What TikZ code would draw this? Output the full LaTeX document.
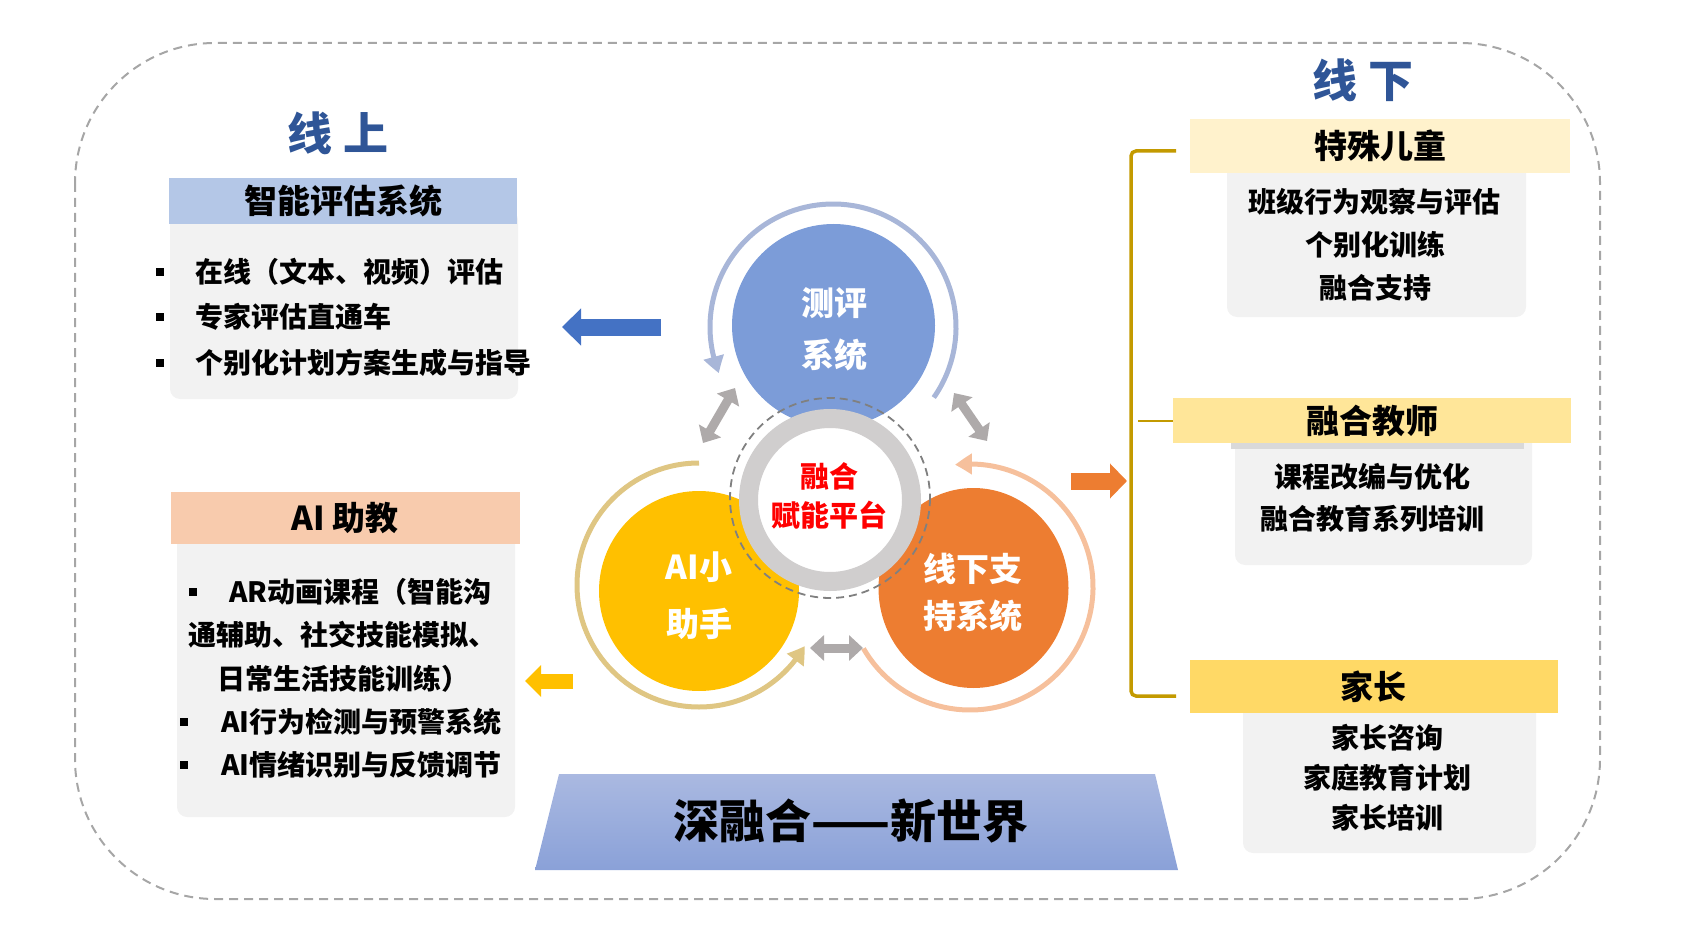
\documentclass[tikz,border=0pt]{standalone}
\usepackage{fontspec}
\setmainfont{Noto Sans CJK SC}
\usetikzlibrary{arrows.meta,bending,shapes.geometric}

\definecolor{titleblue}{HTML}{2F5597}
\definecolor{panelgray}{HTML}{F2F2F2}
\definecolor{headA}{HTML}{B4C7E7}
\definecolor{headB}{HTML}{F8CBAD}
\definecolor{headC}{HTML}{FFF2CC}
\definecolor{headD}{HTML}{FFE699}
\definecolor{headE}{HTML}{FFD966}
\definecolor{stripgray}{HTML}{D9D9D9}
\definecolor{goldline}{HTML}{C39A00}
\definecolor{outerdash}{HTML}{A6A6A6}
\definecolor{innerdash}{HTML}{808080}
\definecolor{evalblue}{HTML}{7C9CD8}
\definecolor{evalring}{HTML}{A8B6D8}
\definecolor{aiyellow}{HTML}{FFC000}
\definecolor{airing}{HTML}{DFC683}
\definecolor{offorange}{HTML}{ED7D31}
\definecolor{offring}{HTML}{F6C09C}
\definecolor{hubgray}{HTML}{D0CECE}
\definecolor{dblgray}{HTML}{AEAAAA}
\definecolor{arrowblue}{HTML}{4472C4}
\definecolor{hubred}{HTML}{FF0000}
\definecolor{trapTop}{HTML}{AAB9E1}
\definecolor{trapBot}{HTML}{8AA1D8}

\begin{document}
\begin{tikzpicture}[x=1pt,y=-1pt,
  every node/.style={inner sep=0pt, outer sep=0pt},
  titletxt/.style={text=titleblue, font=\bfseries\fontsize{45}{50}\selectfont},
  headtxt/.style={font=\bfseries\fontsize{33}{38}\selectfont},
  bodytxt/.style={font=\bfseries\fontsize{28}{32}\selectfont},
  aitxt/.style={font=\bfseries\fontsize{28}{32}\selectfont, anchor=west},
  sqbullet/.style={fill=black, minimum size=8pt},
  panel/.style={fill=panelgray, rounded corners=10pt},
  circtxt/.style={text=white, font=\bfseries\fontsize{33}{38}\selectfont},
  hubtxt/.style={text=hubred, font=\bfseries\fontsize{29}{33}\selectfont},
  ringarc/.style={line width=5pt, -{Triangle[width=20pt,length=17pt,bend]}},
  dblarrow/.style={dblgray, line width=9pt, {Triangle[width=25pt,length=14pt]}-{Triangle[width=25pt,length=14pt]}},
]
\useasboundingbox (0,0) rectangle (1689,925);

% outer dashed frame
\draw[outerdash, line width=2pt, dash pattern=on 9pt off 6pt, rounded corners=140pt] (75,43) rectangle (1600,899);

% ---------- left: online ----------
\node[titletxt] (tOn) at (338,133) {线 上};

\fill[panel] (170,210) rectangle (518,399);
\fill[headA] (169,178) rectangle (517,224);
\node[headtxt] (hEval) at (343,201) {智能评估系统};
\node[sqbullet] (bA1) at (160,272) {};
\node[bodytxt, anchor=west] (lA1) at (195,272) {在线（文本、视频）评估};
\node[sqbullet] (bA2) at (160,317) {};
\node[bodytxt, anchor=west] (lA2) at (195,317) {专家评估直通车};
\node[sqbullet] (bA3) at (160,363) {};
\node[bodytxt, anchor=west] (lA3) at (195,363) {个别化计划方案生成与指导};

\fill[panel] (177,530) rectangle (515,817);
\fill[headB] (171,492) rectangle (520,544);
\node[headtxt] (hAI) at (345,518) {AI 助教};
\node[sqbullet] (bB1) at (193,592) {};
\node[aitxt] (lB1) at (229,592) {AR动画课程（智能沟};
\node[aitxt] (lB2) at (188,635) {通辅助、社交技能模拟、};
\node[aitxt] (lB3) at (217,679) {日常生活技能训练）};
\node[sqbullet] (bB4) at (184,722) {};
\node[aitxt] (lB4) at (221,722) {AI行为检测与预警系统};
\node[sqbullet] (bB5) at (184,765) {};
\node[aitxt] (lB5) at (221,765) {AI情绪识别与反馈调节};

% ---------- centre ----------
\node[circle, fill=evalblue, minimum size=203pt] (cEval) at (833.5,325.5) {};
\node[circle, fill=aiyellow, minimum size=200pt] (cAI) at (699,591) {};
\node[ellipse, fill=offorange, minimum width=190pt, minimum height=200pt] (cOff) at (973.5,588) {};

\coordinate (rEval) at (833,327);
\coordinate (rAI) at (699,585);
\coordinate (rOff) at (970,587);
\draw[ringarc, evalring] ([shift={(35:123)}]rEval) arc[start angle=35, end angle=-202, radius=123];
\draw[ringarc, airing] ([shift={(-90:122)}]rAI) arc[start angle=-90, end angle=-330, radius=122];
\draw[ringarc, offring] ([shift={(-210:123)}]rOff) arc[start angle=-210, end angle=-457, radius=123];

\draw[innerdash, line width=1.8pt, dash pattern=on 8pt off 5pt] (830,498) circle[radius=100];
\node[circle, draw=hubgray, line width=19pt, fill=white, minimum size=163pt] (hub) at (830,500) {};

\node[circtxt] (tEval1) at (834,303) {测评};
\node[circtxt] (tEval2) at (834,355) {系统};
\node[circtxt] (tAI1) at (699,567) {AI小};
\node[circtxt] (tAI2) at (699,624) {助手};
\node[circtxt] (tOff1) at (973,569) {线下支};
\node[circtxt] (tOff2) at (973,616) {持系统};
\node[hubtxt] (tHub1) at (829,476) {融合};
\node[hubtxt] (tHub2) at (829,515) {赋能平台};

% double arrows between circles
\coordinate (dA1) at (703,443); \coordinate (dA2) at (735,388);
\coordinate (dB1) at (954,393); \coordinate (dB2) at (987,441);
\coordinate (dC1) at (810,648); \coordinate (dC2) at (863,648);
\draw[dblarrow] (dA1) -- (dA2);
\draw[dblarrow] (dB1) -- (dB2);
\draw[dblarrow] (dC1) -- (dC2);

% block arrows
\coordinate (aBt) at (661,327); \coordinate (aBh) at (562,327);
\draw[arrowblue, line width=17pt, -{Triangle[width=36pt,length=19pt]}] (aBt) -- (aBh);
\coordinate (aYt) at (573,681); \coordinate (aYh) at (525,681);
\draw[aiyellow, line width=15pt, -{Triangle[width=31pt,length=16pt]}] (aYt) -- (aYh);
\coordinate (aOt) at (1071,481); \coordinate (aOh) at (1127,481);
\draw[offorange, line width=17pt, -{Triangle[width=34pt,length=17pt]}] (aOt) -- (aOh);

% bottom banner
\shade[top color=trapTop, bottom color=trapBot] (559,774) -- (1155,774) -- (1178,870) -- (535,870) -- cycle;
\node[font=\bfseries\fontsize{46}{52}\selectfont] (banner) at (851,821) {深融合——新世界};

% ---------- right: offline ----------
\node[titletxt] (tOff) at (1363,80) {线 下};

\fill[panel] (1227,160) rectangle (1526,317);
\fill[headC] (1190,119) rectangle (1570,173);
\node[headtxt] (hKid) at (1380,146) {特殊儿童};
\node[bodytxt] (rA1) at (1374,202) {班级行为观察与评估};
\node[bodytxt] (rA2) at (1375,245) {个别化训练};
\node[bodytxt] (rA3) at (1375,288) {融合支持};

\fill[panel] (1235,430) rectangle (1532,565);
\fill[stripgray] (1231,440) rectangle (1524,449);
\fill[headD] (1173,398) rectangle (1571,443);
\node[headtxt] (hTea) at (1372,421) {融合教师};
\node[bodytxt] (rB1) at (1372,477) {课程改编与优化};
\node[bodytxt] (rB2) at (1372,519) {融合教育系列培训};

\fill[panel] (1243,700) rectangle (1536,853);
\fill[headE] (1190,660) rectangle (1558,713);
\node[headtxt] (hPar) at (1373,687) {家长};
\node[bodytxt] (rC1) at (1387,738) {家长咨询};
\node[bodytxt] (rC2) at (1387,778) {家庭教育计划};
\node[bodytxt] (rC3) at (1387,818) {家长培训};

% bracket
\coordinate (brTop) at (1176,151);
\coordinate (brBot) at (1176,696);
\coordinate (brMidA) at (1138,421);
\coordinate (brMidB) at (1173,421);
\draw[goldline, line width=3.5pt, rounded corners=5pt] (brTop) -- (1131,151) -- (1131,696) -- (brBot);
\draw[goldline, line width=1.5pt] (brMidA) -- (brMidB);
\end{tikzpicture}
\end{document}
